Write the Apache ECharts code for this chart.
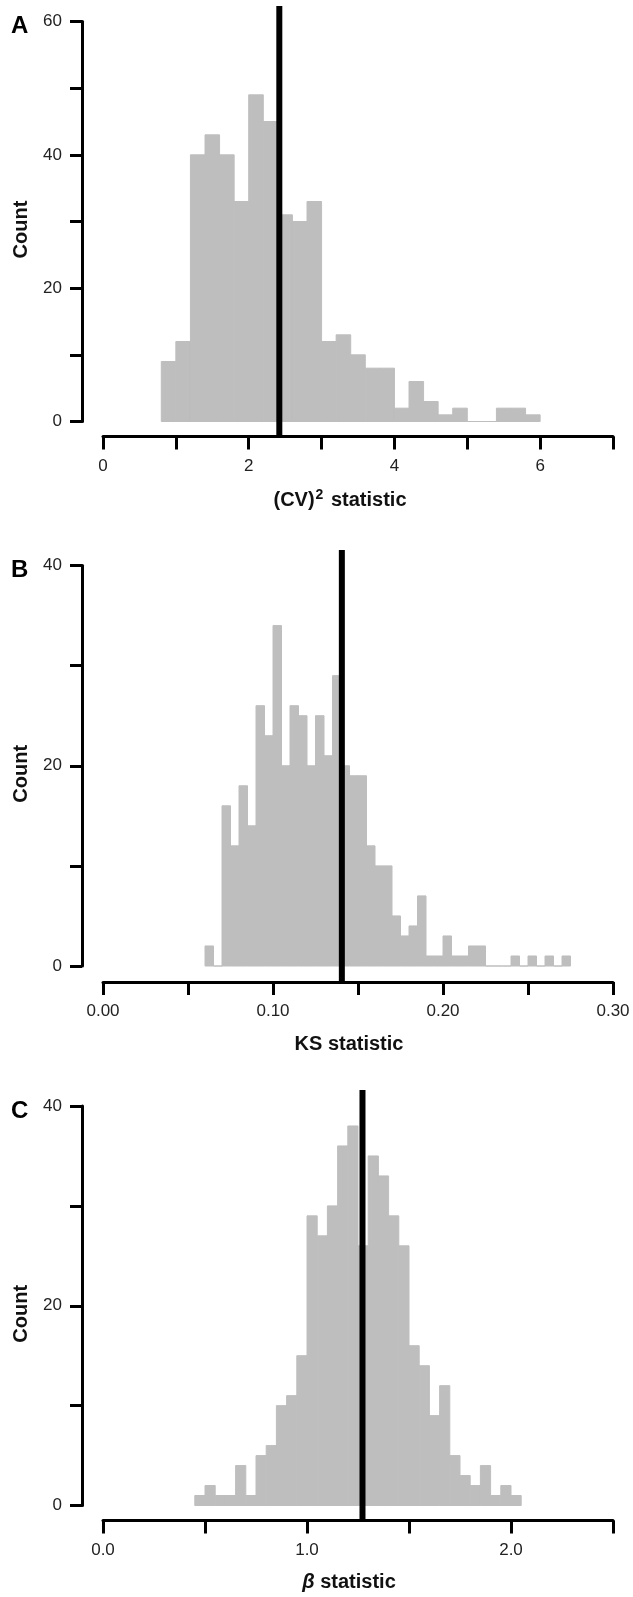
<!DOCTYPE html>
<html><head><meta charset="utf-8">
<script src="https://cdn.jsdelivr.net/npm/echarts@6/dist/echarts.min.js"></script>
<style>html,body{margin:0;padding:0;background:#fff}#c{width:633px;height:1597px}</style>
</head><body><div id="c"></div>
<script>
// ---- Panel A: (CV)^2 statistic ----
const edgesA = [0.8,1.0,1.2,1.4,1.6,1.8,2.0,2.2,2.4,2.6,2.8,3.0,3.2,3.4,3.6,3.8,4.0,4.2,4.4,4.6,4.8,5.0,5.2,5.4,5.6,5.8,6.0];
const countsA = [9,12,40,43,40,33,49,45,31,30,33,12,13,10,8,8,2,6,3,1,2,0,0,2,2,1];
const observedA = 2.42;
const xLabelsA = ['0','2','4','6'];
const yLabelsA = ['0','20','40','60'];

// ---- Panel B: KS statistic ----
const edgesB = [0.060,0.065,0.070,0.075,0.080,0.085,0.090,0.095,0.100,0.105,0.110,0.115,0.120,0.125,0.130,0.135,0.140,0.145,0.150,0.155,0.160,0.165,0.170,0.175,0.180,0.185,0.190,0.195,0.200,0.205,0.210,0.215,0.220,0.225,0.230,0.235,0.240,0.245,0.250,0.255,0.260,0.265,0.270,0.275];
const countsB = [2,0,16,12,18,14,26,23,34,20,26,25,20,25,21,29,20,19,19,12,10,10,5,3,4,7,1,1,3,1,1,2,2,0,0,0,1,0,1,0,1,0,1];
const observedB = 0.1405;
const xLabelsB = ['0.00','0.10','0.20','0.30'];
const yLabelsB = ['0','20','40'];

// ---- Panel C: beta statistic ----
const edgesC = [0.45,0.50,0.55,0.60,0.65,0.70,0.75,0.80,0.85,0.90,0.95,1.00,1.05,1.10,1.15,1.20,1.25,1.30,1.35,1.40,1.45,1.50,1.55,1.60,1.65,1.70,1.75,1.80,1.85,1.90,1.95,2.00,2.05];
const countsC = [1,2,1,1,4,1,5,6,10,11,15,29,27,30,36,38,26,35,33,29,26,16,14,9,12,5,3,2,4,1,2,1];
const observedC = 1.272;
const xLabelsC = ['0.0','1.0','2.0'];
const yLabelsC = ['0','20','40'];

const FONT = 'Liberation Sans, Arial, Helvetica, sans-serif';
const GRID_LEFT = 103, GRID_W = 510;
const titleStyle = {fontWeight:'bold', fontSize:20, fontFamily:FONT, color:'#111'};

const panels = [
  {letter:'A', edges:edgesA, counts:countsA, obs:observedA, xMax:7, xInt:1, xDec:0, xLabels:xLabelsA,
   yMax:60, yLabels:yLabelsA, top:21.5, h:400, xOff:15, lineTop:6,
   xName:'(CV){sup|2} statistic', namePad:[0,36,0,0],
   rich:{sup:{fontWeight:'bold', fontSize:14, fontFamily:FONT, color:'#111', verticalAlign:'top', padding:[0,2,10,1]}}},
  {letter:'B', edges:edgesB, counts:countsB, obs:observedB, xMax:0.30, xInt:0.05, xDec:2, xLabels:xLabelsB,
   yMax:40, yLabels:yLabelsB, top:565.5, h:400.5, xOff:16, lineTop:550,
   xName:'KS statistic', namePad:[0,18,0,0], rich:null},
  {letter:'C', edges:edgesC, counts:countsC, obs:observedC, xMax:2.5, xInt:0.5, xDec:1, xLabels:xLabelsC,
   yMax:40, yLabels:yLabelsC, top:1106, h:399.5, xOff:15, lineTop:1090,
   xName:'{i|β} statistic', namePad:[0,18,0,0],
   rich:{i:{fontStyle:'italic', fontWeight:'bold', fontSize:20, fontFamily:FONT, color:'#111'}}}
];

const grid = [], xAxis = [], yAxis = [], series = [], graphic = [];
panels.forEach((p, i) => {
  const axisY = p.top + p.h + p.xOff;
  grid.push({left:GRID_LEFT, width:GRID_W, top:p.top, height:p.h, outerBoundsMode:'none', containLabel:false});
  grid.push({left:GRID_LEFT, width:GRID_W, top:p.lineTop, height:axisY - p.lineTop, outerBoundsMode:'none', containLabel:false});
  const xi = i * 2;
  const nts = Object.assign({}, titleStyle, {padding:p.namePad});
  if (p.rich) nts.rich = p.rich;
  xAxis.push({
    gridIndex: xi, type:'value', min:0, max:p.xMax, interval:p.xInt, offset:p.xOff,
    axisLine:{show:true, onZero:false, lineStyle:{color:'#000', width:3}},
    axisTick:{show:true, length:13, lineStyle:{color:'#000', width:3}},
    splitLine:{show:false},
    axisLabel:{margin:21, fontSize:17, color:'#222', fontFamily:FONT,
      formatter:(v)=>{ const s = v.toFixed(p.xDec); return p.xLabels.includes(s) ? s : ''; }},
    name:p.xName, nameLocation:'middle', nameGap:52, nameTextStyle:nts
  });
  xAxis.push({gridIndex: xi+1, type:'value', min:0, max:p.xMax, show:false});
  yAxis.push({
    gridIndex: xi, type:'value', min:0, max:p.yMax, interval:10, offset:21,
    axisLine:{show:true, onZero:false, lineStyle:{color:'#000', width:3}},
    axisTick:{show:true, length:12, lineStyle:{color:'#000', width:3}},
    splitLine:{show:false},
    axisLabel:{margin:20, fontSize:17, color:'#222', fontFamily:FONT,
      formatter:(v)=>{ const s = String(Math.round(v)); return p.yLabels.includes(s) ? s : ''; }},
    name:'Count', nameLocation:'middle', nameGap:51, nameRotate:90,
    nameTextStyle:Object.assign({}, titleStyle, {padding:[0,16,0,0]})
  });
  yAxis.push({gridIndex: xi+1, type:'value', min:0, max:1, show:false});

  const data = p.counts.map((c, k) => [p.edges[k], p.edges[k+1], c]);
  series.push({
    type:'custom', xAxisIndex:xi, yAxisIndex:xi, silent:true, clip:false, z:2,
    encode:{x:[0,1], y:2},
    renderItem:(params, api) => {
      const a = api.coord([api.value(0), api.value(2)]);
      const b = api.coord([api.value(1), 0]);
      return {type:'rect', shape:{x:a[0], y:a[1], width:b[0]-a[0], height:b[1]-a[1]},
        style:{fill:'#bebebe', stroke:'#bebebe', lineWidth:1}};
    },
    data
  });
  series.push({
    type:'line', xAxisIndex:xi+1, yAxisIndex:xi+1, silent:true, symbol:'none', z:5,
    lineStyle:{color:'#000', width:6, cap:'butt'},
    data:[[p.obs, 0], [p.obs, 1]]
  });
  graphic.push({type:'text', x:11, y:p.top + 5,
    style:{text:p.letter, fill:'#000', font:'bold 24px ' + FONT, verticalAlign:'middle', align:'left'}});
});

const chart = echarts.init(document.getElementById('c'), null, {renderer:'canvas'});
chart.setOption({animation:false, backgroundColor:'#fff', grid, xAxis, yAxis, series, graphic});
</script>
</body></html>
